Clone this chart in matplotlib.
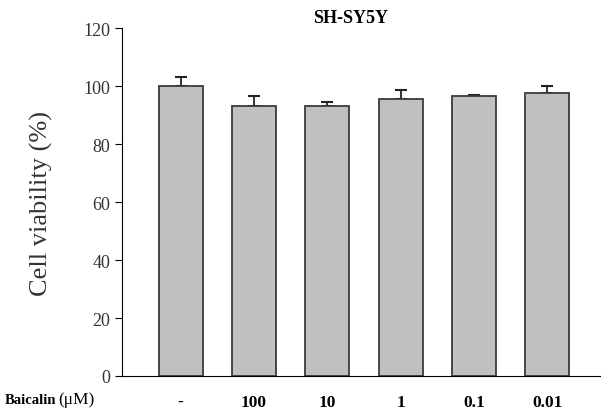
import matplotlib
matplotlib.use("Agg")
import matplotlib.pyplot as plt
import numpy as np

# data
doses = ["-", "100", "10", "1", "0.1", "0.01"]
viability = [100.0, 93.3, 93.1, 95.5, 96.7, 97.8]
err_upper = [3.2, 3.3, 1.5, 3.1, 0.4, 2.3]
yticks = [0, 20, 40, 60, 80, 100, 120]

plt.rcParams["font.family"] = ["Liberation Serif", "DejaVu Serif"]

fig = plt.figure(figsize=(6.01, 4.14), dpi=100)
ax = fig.add_axes([0.203, 0.0894, 0.797, 0.840])

x = np.arange(len(doses))
ax.bar(x, viability, width=0.6, color="#c0c0c0", edgecolor="#3a3a3a", linewidth=1.3, zorder=2)
ax.errorbar(x, viability, yerr=[np.zeros(len(x)), err_upper], fmt="none",
            ecolor="#222222", elinewidth=1.3, capsize=4, capthick=1.5, zorder=1)

ax.set_xlim(-0.80, 5.73)
ax.set_ylim(0, 120)
ax.set_yticks(yticks)
ax.tick_params(axis="y", direction="out", length=5, width=0.8, labelsize=13, labelcolor="#333333")
ax.set_xticks(x)
ax.set_xticklabels(doses, fontweight="bold", fontsize=12.5)
ax.tick_params(axis="x", length=0, pad=13)
for s in ["top", "right"]:
    ax.spines[s].set_visible(False)
ax.spines["left"].set_linewidth(0.8)
ax.spines["bottom"].set_linewidth(0.8)

ax.set_ylabel("Cell viability (%)", fontsize=19, color="#333333", labelpad=22)
fig.text(0.583, 0.955, "SH-SY5Y", ha="center", va="center", fontsize=13, fontweight="bold")
fig.text(0.008, 0.033, "Baicalin", ha="left", va="center", fontsize=10.5, fontweight="bold")
fig.text(0.097, 0.033, "(μM)", ha="left", va="center", fontsize=12.5)

fig.savefig("out.png", dpi=100)
